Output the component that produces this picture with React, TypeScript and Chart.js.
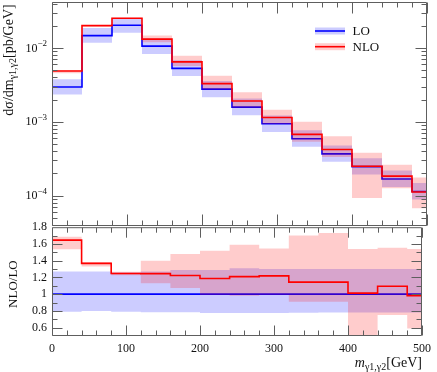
import React, { useEffect, useRef } from 'react';
import { Chart, registerables } from 'chart.js';

Chart.register(...registerables);

// ---------------- data ----------------
const binEdges = [0, 40, 80, 120, 160, 200, 240, 280, 320, 360, 400, 440, 480, 500];
// central values [pb/GeV]
const loXsec = [2.96e-3, 1.47e-2, 2.03e-2, 1.06e-2, 5.3e-3, 2.77e-3, 1.58e-3, 9.4e-4, 5.9e-4, 3.68e-4, 2.47e-4, 1.68e-4, 1.14e-4];
const nloXsec = [4.87e-3, 2.01e-2, 2.53e-2, 1.32e-2, 6.48e-3, 3.29e-3, 1.91e-3, 1.145e-3, 6.75e-4, 4.21e-4, 2.5e-4, 1.84e-4, 1.12e-4];
// scale-uncertainty bands, relative to the LO central value
const loBandUp = [1.27, 1.27, 1.26, 1.27, 1.29, 1.29, 1.31, 1.3, 1.3, 1.3, 1.3, 1.3, 1.3];
const loBandDown = [0.79, 0.8, 0.79, 0.785, 0.785, 0.775, 0.775, 0.775, 0.777, 0.78, 0.78, 0.78, 0.78];
const nloBandUp = [1.687, 1.385, 1.268, 1.398, 1.48, 1.519, 1.589, 1.546, 1.7, 1.73, 1.54, 1.554, 1.54];
const nloBandDown = [1.536, 1.33, 1.225, 1.13, 1.074, 0.99, 0.98, 0.99, 0.91, 0.91, 0.376, 0.75, 0.59];
// axes / labels
const logTickLabels = [1e-4, 1e-3, 1e-2];
const ratioTickLabels = [0.6, 0.8, 1, 1.2, 1.4, 1.6, 1.8];
const xTickLabels = [0, 100, 200, 300, 400, 500];
const legendLabels = ['LO', 'NLO'];

const FONT = '"Liberation Serif", "Times New Roman", serif';
const BLUE = '#0000ff';
const RED = '#ff0000';
const BLUE_BAND = 'rgba(0,0,255,0.2)';
const RED_BAND = 'rgba(255,0,0,0.2)';
const AXIS = '#5e5e5e';
const TEXT = '#111111';

type Piece = { t: string; size: number; italic?: boolean; dy?: number };
const fontOf = (p: Piece) => `${p.italic ? 'italic ' : ''}${p.size}px ${FONT}`;
function richWidth(ctx: CanvasRenderingContext2D, pieces: Piece[]) {
  let w = 0;
  for (const p of pieces) {
    ctx.font = fontOf(p);
    w += ctx.measureText(p.t).width;
  }
  return w;
}
function drawRich(ctx: CanvasRenderingContext2D, pieces: Piece[], x: number, y: number) {
  let cx = x;
  ctx.textAlign = 'left';
  ctx.textBaseline = 'alphabetic';
  for (const p of pieces) {
    ctx.font = fontOf(p);
    ctx.fillText(p.t, cx, y + (p.dy || 0));
    cx += ctx.measureText(p.t).width;
  }
}

function steps(vals: number[]) {
  return binEdges.map((x, i) => ({ x, y: vals[Math.min(i, vals.length - 1)] }));
}

function histDatasets(loC: number[], loHi: number[], loLo: number[], nloC: number[], nloHi: number[], nloLo: number[]) {
  const line = (data: number[], color: string) => ({
    data: steps(data), borderColor: color, borderWidth: 1.6, stepped: true, pointRadius: 0, fill: false,
  });
  const band = (data: number[], color: string, fill: any) => ({
    data: steps(data), borderColor: 'rgba(0,0,0,0)', borderWidth: 0, backgroundColor: color,
    stepped: true, pointRadius: 0, fill,
  });
  return [
    line(nloC, RED),
    band(nloHi, RED_BAND, '+1'),
    band(nloLo, RED_BAND, false),
    line(loC, BLUE),
    band(loHi, BLUE_BAND, '+1'),
    band(loLo, BLUE_BAND, false),
  ];
}

const topDecor = {
  id: 'topDecor',
  afterDraw(chart: any) {
    const { ctx, chartArea: a } = chart;
    const xs = chart.scales.x;
    const ys = chart.scales.y;
    ctx.save();
    ctx.strokeStyle = AXIS;
    ctx.lineWidth = 1;
    const L = a.left + 0.5, R = a.right - 0.5, T = a.top + 0.5, B = a.bottom + 0.5;
    ctx.beginPath();
    ctx.moveTo(L, T); ctx.lineTo(R, T); ctx.lineTo(R, B); ctx.lineTo(L, B); ctx.closePath();
    for (let v = 0; v <= 500; v += 20) {
      const px = Math.round(xs.getPixelForValue(v)) + 0.5;
      const len = v % 100 === 0 ? 11 : 5;
      ctx.moveTo(px, B); ctx.lineTo(px, B - len);
      ctx.moveTo(px, T); ctx.lineTo(px, T + len);
    }
    for (let e = -5; e <= -1; e++) {
      for (let k = 1; k <= 9; k++) {
        const v = k * Math.pow(10, e);
        if (v < ys.min || v > ys.max) continue;
        const py = Math.round(ys.getPixelForValue(v)) + 0.5;
        const len = k === 1 ? 11 : 5;
        ctx.moveTo(L, py); ctx.lineTo(L + len, py);
        ctx.moveTo(R, py); ctx.lineTo(R - len, py);
      }
    }
    ctx.stroke();

    ctx.fillStyle = TEXT;
    for (const v of logTickLabels) {
      const py = ys.getPixelForValue(v);
      const exp = Math.round(Math.log10(v));
      const pieces: Piece[] = [
        { t: '10', size: 12 },
        { t: (exp < 0 ? '\u2212' : '') + Math.abs(exp), size: 9, dy: -5.5 },
      ];
      const w = richWidth(ctx, pieces);
      drawRich(ctx, pieces, a.left - 5 - w, py + 3.5);
    }

    // y title
    const title: Piece[] = [
      { t: 'd\u03c3/dm', size: 14 },
      { t: '\u03b31,\u03b32', size: 10, dy: 3 },
      { t: '[pb/GeV]', size: 14 },
    ];
    ctx.save();
    ctx.translate(13, 60);
    ctx.rotate(-Math.PI / 2);
    const tw = richWidth(ctx, title);
    drawRich(ctx, title, -tw / 2, 0);
    ctx.restore();

    // legend
    const colors = [BLUE, RED];
    const bands = [BLUE_BAND, RED_BAND];
    const rowY = [31, 46.7];
    legendLabels.forEach((lab, i) => {
      const y = rowY[i];
      ctx.fillStyle = bands[i];
      ctx.fillRect(315, y - 3.5, 30, 7);
      ctx.strokeStyle = colors[i];
      ctx.lineWidth = 1.6;
      ctx.beginPath();
      ctx.moveTo(315, y); ctx.lineTo(345, y);
      ctx.stroke();
      ctx.fillStyle = TEXT;
      ctx.font = `13px ${FONT}`;
      ctx.textAlign = 'left';
      ctx.textBaseline = 'middle';
      ctx.fillText(lab, 352.5, y + 0.5);
    });
    ctx.restore();
  },
};

const ratioDecor = {
  id: 'ratioDecor',
  afterDraw(chart: any) {
    const { ctx, chartArea: a } = chart;
    const xs = chart.scales.x;
    const ys = chart.scales.y;
    ctx.save();
    ctx.strokeStyle = AXIS;
    ctx.lineWidth = 1;
    const L = a.left + 0.5, R = a.right - 0.5, T = a.top + 0.5, B = a.bottom - 0.5;
    ctx.beginPath();
    ctx.moveTo(L, T); ctx.lineTo(R, T); ctx.lineTo(R, B); ctx.lineTo(L, B); ctx.closePath();
    for (let v = 0; v <= 500; v += 20) {
      const px = Math.round(xs.getPixelForValue(v)) + 0.5;
      const len = v % 100 === 0 ? 10 : 5;
      ctx.moveTo(px, B); ctx.lineTo(px, B - len);
      ctx.moveTo(px, T); ctx.lineTo(px, T + len);
    }
    for (let i = 6; i <= 17; i++) {
      const py = Math.round(ys.getPixelForValue(i / 10)) + 0.5;
      const len = i % 2 === 0 ? 10 : 5;
      ctx.moveTo(L, py); ctx.lineTo(L + len, py);
      ctx.moveTo(R, py); ctx.lineTo(R - len, py);
    }
    ctx.stroke();

    ctx.fillStyle = TEXT;
    // y title
    ctx.save();
    ctx.translate(16.5, (a.top + a.bottom) / 2 + 2.5);
    ctx.rotate(-Math.PI / 2);
    ctx.font = `13px ${FONT}`;
    ctx.textAlign = 'center';
    ctx.textBaseline = 'alphabetic';
    ctx.fillText('NLO/LO', 0, 0);
    ctx.restore();

    // x title
    const xt: Piece[] = [
      { t: 'm', size: 14, italic: true },
      { t: '\u03b31,\u03b32', size: 10, dy: 3 },
      { t: '[GeV]', size: 14 },
    ];
    const w = richWidth(ctx, xt);
    drawRich(ctx, xt, a.right - w, a.bottom + 31);
    ctx.restore();
  },
};

export default function App() {
  const topRef = useRef<HTMLCanvasElement>(null);
  const botRef = useRef<HTMLCanvasElement>(null);

  useEffect(() => {
    document.body.style.margin = '0';
    const loHi = loXsec.map((v, i) => v * loBandUp[i]);
    const loLo = loXsec.map((v, i) => v * loBandDown[i]);
    const nloHi = loXsec.map((v, i) => v * nloBandUp[i]);
    const nloLo = loXsec.map((v, i) => v * nloBandDown[i]);
    const ratio = nloXsec.map((v, i) => v / loXsec[i]);
    const ones = loXsec.map((v) => v / v);

    const common: any = {
      responsive: false,
      animation: false,
      devicePixelRatio: 1,
      events: [],
      plugins: { legend: { display: false }, tooltip: { enabled: false } },
      elements: { point: { radius: 0 } },
    };

    const top = new Chart(topRef.current as HTMLCanvasElement, {
      type: 'line',
      data: { datasets: histDatasets(loXsec, loHi, loLo, nloXsec, nloHi, nloLo) as any },
      options: {
        ...common,
        layout: { padding: { left: 52, right: 10, top: 2, bottom: 7 } },
        scales: {
          x: { type: 'linear', min: 0, max: 500, display: false },
          y: { type: 'logarithmic', min: 4e-5, max: 4.2e-2, display: false },
        },
      },
      plugins: [topDecor],
    });

    const bot = new Chart(botRef.current as HTMLCanvasElement, {
      type: 'line',
      data: { datasets: histDatasets(ones, loBandUp, loBandDown, ratio, nloBandUp, nloBandDown) as any },
      options: {
        ...common,
        layout: { padding: { left: 0, right: 10, top: 10, bottom: 0 } },
        scales: {
          x: {
            type: 'linear', min: 0, max: 500, position: 'bottom',
            grid: { display: false, drawTicks: false },
            border: { display: false },
            afterBuildTicks: (s: any) => { s.ticks = xTickLabels.map((value) => ({ value })); },
            ticks: {
              padding: 6, autoSkip: false, maxRotation: 0, color: TEXT,
              font: { family: FONT, size: 12 },
              callback: (v: any) => String(v),
            },
            afterFit: (s: any) => { s.height = 36; },
          },
          y: {
            type: 'linear', min: 0.5, max: 1.8,
            grid: { display: false, drawTicks: false },
            border: { display: false },
            afterBuildTicks: (s: any) => { s.ticks = ratioTickLabels.map((value) => ({ value })); },
            ticks: {
              padding: 5, autoSkip: false, color: TEXT,
              font: { family: FONT, size: 12 },
              callback: (v: any) => String(Math.round(v * 10) / 10),
            },
            afterFit: (s: any) => { s.width = 52; },
          },
        },
      },
      plugins: [ratioDecor],
    });

    return () => {
      top.destroy();
      bot.destroy();
    };
  }, []);

  return (
    <div style={{ position: 'relative', width: 437, height: 372, background: '#ffffff' }}>
      <canvas ref={topRef} width={437} height={232}
        style={{ position: 'absolute', left: 0, top: 0, width: 437, height: 232 }} />
      <canvas ref={botRef} width={437} height={157}
        style={{ position: 'absolute', left: 0, top: 215, width: 437, height: 157 }} />
    </div>
  );
}
